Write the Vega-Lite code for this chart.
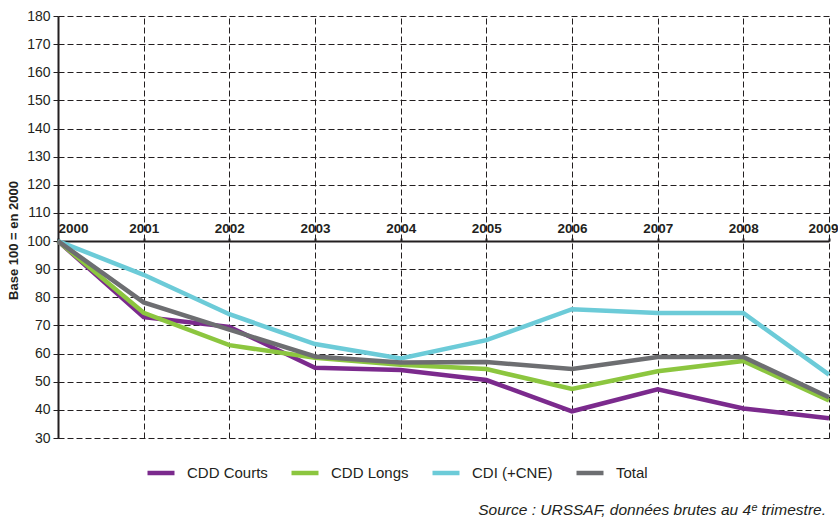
{
  "$schema": "https://vega.github.io/schema/vega-lite/v6.json",
  "autosize": "none",
  "padding": {"left": 58, "top": 16, "right": 9, "bottom": 79},
  "width": 771,
  "height": 422,
  "background": "white",
  "config": {
    "font": "Liberation Sans",
    "view": {"stroke": null}
  },
  "title": {
    "text": "Source : URSSAF, données brutes au 4ᵉ trimestre.",
    "orient": "bottom",
    "anchor": "end",
    "frame": "group",
    "dx": -3,
    "fontSize": 15.5,
    "fontStyle": "italic",
    "fontWeight": "normal",
    "color": "#231f20",
    "offset": 21
  },
  "data": {
    "values": [
      {"year": 2000, "series": "CDD Courts", "value": 100},
      {"year": 2001, "series": "CDD Courts", "value": 73},
      {"year": 2002, "series": "CDD Courts", "value": 69.5},
      {"year": 2003, "series": "CDD Courts", "value": 55},
      {"year": 2004, "series": "CDD Courts", "value": 54.2},
      {"year": 2005, "series": "CDD Courts", "value": 50.6},
      {"year": 2006, "series": "CDD Courts", "value": 39.5},
      {"year": 2007, "series": "CDD Courts", "value": 47.3},
      {"year": 2008, "series": "CDD Courts", "value": 40.5},
      {"year": 2009, "series": "CDD Courts", "value": 37},
      {"year": 2000, "series": "CDD Longs", "value": 100},
      {"year": 2001, "series": "CDD Longs", "value": 74.5},
      {"year": 2002, "series": "CDD Longs", "value": 63},
      {"year": 2003, "series": "CDD Longs", "value": 58.5},
      {"year": 2004, "series": "CDD Longs", "value": 56},
      {"year": 2005, "series": "CDD Longs", "value": 54.5},
      {"year": 2006, "series": "CDD Longs", "value": 47.4},
      {"year": 2007, "series": "CDD Longs", "value": 53.7},
      {"year": 2008, "series": "CDD Longs", "value": 57.4},
      {"year": 2009, "series": "CDD Longs", "value": 43.3},
      {"year": 2000, "series": "CDI (+CNE)", "value": 100},
      {"year": 2001, "series": "CDI (+CNE)", "value": 88},
      {"year": 2002, "series": "CDI (+CNE)", "value": 74},
      {"year": 2003, "series": "CDI (+CNE)", "value": 63.4},
      {"year": 2004, "series": "CDI (+CNE)", "value": 58.3},
      {"year": 2005, "series": "CDI (+CNE)", "value": 64.8},
      {"year": 2006, "series": "CDI (+CNE)", "value": 75.8},
      {"year": 2007, "series": "CDI (+CNE)", "value": 74.4},
      {"year": 2008, "series": "CDI (+CNE)", "value": 74.4},
      {"year": 2009, "series": "CDI (+CNE)", "value": 52.5},
      {"year": 2000, "series": "Total", "value": 100},
      {"year": 2001, "series": "Total", "value": 78.2},
      {"year": 2002, "series": "Total", "value": 68.5},
      {"year": 2003, "series": "Total", "value": 59},
      {"year": 2004, "series": "Total", "value": 56.8},
      {"year": 2005, "series": "Total", "value": 57},
      {"year": 2006, "series": "Total", "value": 54.5},
      {"year": 2007, "series": "Total", "value": 58.8},
      {"year": 2008, "series": "Total", "value": 58.8},
      {"year": 2009, "series": "Total", "value": 44.5}
    ]
  },
  "mark": {"type": "line", "strokeWidth": 4.5, "clip": false},
  "encoding": {
    "x": {
      "field": "year",
      "type": "quantitative",
      "scale": {"domain": [2000, 2009], "nice": false, "zero": false},
      "axis": {
        "orient": "top",
        "offset": -225,
        "values": [2000, 2001, 2002, 2003, 2004, 2005, 2006, 2007, 2008, 2009],
        "format": "d",
        "labelExpr": "datum.value == 2000 ? '\u00a02000' : datum.label",
        "title": null,
        "labelFontWeight": "bold",
        "labelFontSize": 13.5,
        "labelColor": "#231f20",
        "labelPadding": 3,
        "labelFlush": false,
        "labelOverlap": false,
        "labelBound": false,
        "labelAlign": {"condition": {"test": "datum.value == 2000", "value": "left"}, "value": "center"},
        "labelOffset": {"condition": {"test": "datum.value == 2009", "value": -6}, "value": 0},
        "domainColor": "#231f20",
        "domainWidth": 2,
        "ticks": true,
        "tickSize": 3,
        "tickColor": "#231f20",
        "tickWidth": 2,
        "grid": true,
        "gridDash": [6, 3],
        "gridColor": "#231f20",
        "gridWidth": 1,
        "gridOpacity": 1
      }
    },
    "y": {
      "field": "value",
      "type": "quantitative",
      "scale": {"domain": [30, 180], "nice": false, "zero": false},
      "axis": {
        "values": [30, 40, 50, 60, 70, 80, 90, 100, 110, 120, 130, 140, 150, 160, 170, 180],
        "title": "Base 100 = en 2000",
        "titleFontSize": 13,
        "titleFontWeight": "bold",
        "titleColor": "#231f20",
        "titleX": -38,
        "titleY": 224,
        "labelFontSize": 14,
        "labelColor": "#231f20",
        "labelPadding": 3,
        "labelFlush": false,
        "labelOverlap": false,
        "domainColor": "#231f20",
        "domainWidth": 2,
        "tickColor": "#231f20",
        "tickSize": 5,
        "tickWidth": 1,
        "grid": true,
        "gridDash": [6, 3],
        "gridColor": "#231f20",
        "gridWidth": 1,
        "gridOpacity": 1
      }
    },
    "color": {
      "field": "series",
      "type": "nominal",
      "scale": {
        "domain": ["CDD Courts", "CDD Longs", "CDI (+CNE)", "Total"],
        "range": ["#7b2a8d", "#8cc63f", "#6ccbd8", "#6d6e71"]
      },
      "legend": {
        "orient": "none",
        "legendX": 87,
        "legendY": 441,
        "direction": "horizontal",
        "title": null,
        "symbolType": "stroke",
        "symbolStrokeWidth": 4.5,
        "symbolSize": 729,
        "labelFontSize": 15,
        "labelColor": "#231f20",
        "labelOffset": 10,
        "columnPadding": 14
      }
    }
  }
}
